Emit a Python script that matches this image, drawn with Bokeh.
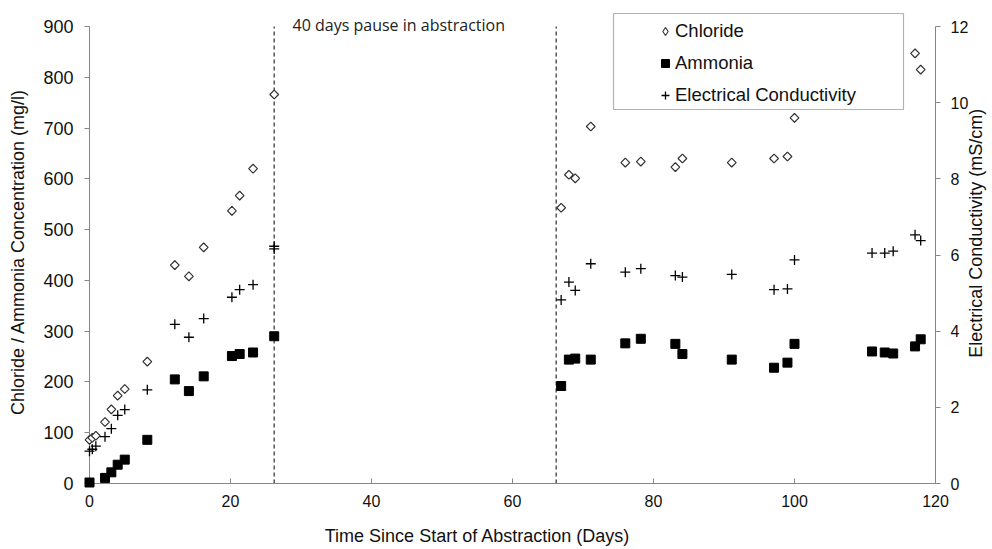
import numpy as np
from bokeh.plotting import figure
from bokeh.models import (Range1d, LinearAxis, Label, Legend, LegendItem,
                          BoxAnnotation, SingleIntervalTicker)
from bokeh.core.properties import value
from bokeh.embed import file_html
from bokeh.resources import INLINE

# ---- data ----
chloride_days = [0, 0.4, 0.9, 2.2, 3.1, 4.0, 5.0, 8.2, 12.1, 14.1, 16.2, 20.2, 21.3, 23.2, 26.2,
                 66.9, 68.0, 68.9, 71.1, 76.0, 78.2, 83.1, 84.1, 91.1, 97.1, 99.0, 100.0, 117.1, 117.9]
chloride = [86, 90, 94, 121, 146, 173, 186, 240, 430, 408, 465, 537, 567, 620, 766,
            543, 608, 601, 703, 632, 634, 623, 640, 632, 640, 644, 720, 847, 815]

ammonia_days = [0, 2.2, 3.1, 4.0, 5.0, 8.2, 12.1, 14.1, 16.2, 20.2, 21.3, 23.2, 26.2,
                66.9, 68.0, 68.9, 71.1, 76.0, 78.2, 83.1, 84.1, 91.1, 97.1, 99.0, 100.0,
                111.0, 112.8, 114.0, 117.1, 117.9]
ammonia = [2, 11, 22, 37, 47, 86, 205, 182, 211, 251, 255, 258, 290,
           192, 244, 246, 244, 276, 285, 275, 255, 244, 228, 238, 275,
           260, 258, 256, 270, 284]

ec_days = [0, 0.4, 0.9, 2.2, 3.1, 4.0, 5.0, 8.2, 12.1, 14.1, 16.2, 20.2, 21.3, 23.2, 26.2, 26.2,
           66.9, 68.0, 68.9, 71.1, 76.0, 78.2, 83.1, 84.1, 91.1, 97.1, 99.0, 100.0,
           111.0, 112.8, 114.0, 117.1, 117.9]
ec = [0.85, 0.9, 0.98, 1.23, 1.44, 1.79, 1.94, 2.46, 4.18, 3.84, 4.33, 4.89, 5.09, 5.22, 6.23, 6.16,
      4.82, 5.29, 5.07, 5.77, 5.55, 5.64, 5.46, 5.42, 5.49, 5.09, 5.11, 5.87,
      6.05, 6.05, 6.10, 6.53, 6.38]

pause_days = [26.2, 66.2]
pause_text = "40 days pause in abstraction"
series_names = ["Chloride", "Ammonia", "Electrical Conductivity"]
right_title = "Electrical Conductivity  (mS/cm)"

Y_MAX, EC_MAX, X_MAX = 900, 12, 120
# frame extends a little above the top tick (room for the legend box)
HEAD = 473 / 457
NB = "\u00a0"

FONT = "Liberation Sans"
AX = "#868686"

p = figure(width=992, height=549, x_range=Range1d(0, X_MAX), y_range=Range1d(0, Y_MAX * HEAD),
           output_backend="svg", toolbar_location=None,
           min_border_left=89, min_border_right=57, min_border_top=10, min_border_bottom=66)
p.outline_line_color = None
p.xgrid.visible = False
p.ygrid.visible = False
p.background_fill_color = "white"
p.border_fill_color = "white"

p.extra_y_ranges = {"ec": Range1d(0, EC_MAX * HEAD)}

xa = p.xaxis[0]
xa.ticker = SingleIntervalTicker(interval=20)
xa.axis_label = "Time Since Start of Abstraction  (Days)" + NB * 13
xa.major_tick_in = 5
xa.major_tick_out = 0
xa.major_label_standoff = 7
xa.axis_label_standoff = 16
xa.major_label_text_font_size = "16px"

ya = p.yaxis[0]
ya.ticker = SingleIntervalTicker(interval=100)
ya.bounds = (0, Y_MAX)
ya.axis_label = "Chloride / Ammonia  Concentration  (mg/l)"
ya.major_tick_in = 0
ya.major_tick_out = 5
ya.major_label_standoff = 11
ya.axis_label_standoff = 12
ya.major_label_text_font_size = "18px"

ra = LinearAxis(y_range_name="ec", ticker=SingleIntervalTicker(interval=2), bounds=(0, EC_MAX))
ra.major_tick_in = 0
ra.major_tick_out = 5
ra.major_label_standoff = 10
ra.major_label_text_font_size = "16px"
p.add_layout(ra, "right")

for ax in [xa, ya, ra]:
    ax.axis_line_color = AX
    ax.major_tick_line_color = AX
    ax.minor_tick_line_color = None
    ax.major_label_text_font = FONT
    ax.major_label_text_color = "#111111"
    ax.axis_label_text_font = FONT
    ax.axis_label_text_font_size = "18px"
    ax.axis_label_text_font_style = "normal"
    ax.axis_label_text_color = "#111111"

# right axis title, reading bottom-to-top like the reference
p.text(x=[X_MAX], y=[Y_MAX * 0.553], text=[right_title], angle=np.pi / 2,
       x_offset=40, text_align="center", text_baseline="middle",
       text_font=value(FONT), text_font_size=value("18px"), text_color="#111111",
       level="overlay")

# pause lines
p.segment(x0=pause_days, y0=[0, 0], x1=pause_days, y1=[Y_MAX, Y_MAX],
          line_color="#555555", line_dash="4 3", line_width=1.5)

p.add_layout(Label(x=28.8, y=902, text=pause_text, text_font="Open Sans",
                   text_font_size="16px", text_baseline="middle", text_color="#222222"))

# data
# diamond-shaped glyph (used for the legend entry), hidden under the drawn markers
r_cl_leg = p.scatter(chloride_days, chloride, marker="diamond", size=8, fill_color="white",
                     line_color="#333333", line_width=1.1, level="overlay")
r_cl = p.scatter(chloride_days, chloride, marker="square", angle=np.pi / 4, size=6.2,
                 fill_color="white", line_color="#333333", line_width=1.2, level="overlay")
r_nh = p.scatter(ammonia_days, ammonia, marker="square", size=9,
                 fill_color="black", line_color="black", level="overlay")
r_ec = p.scatter(ec_days, ec, marker="cross", size=10, line_color="black", line_width=1.3,
                 y_range_name="ec", level="overlay")

# legend frame
p.add_layout(BoxAnnotation(left=74.33, right=115.46, bottom=736.5, top=925.6,
                           fill_color="white", fill_alpha=1, line_color="black",
                           line_width=1.2, level="annotation"))

legend = Legend(items=[LegendItem(label=series_names[0], renderers=[r_cl_leg]),
                       LegendItem(label=series_names[1], renderers=[r_nh]),
                       LegendItem(label=series_names[2], renderers=[r_ec])],
                location=(566, 372), padding=0, margin=0, spacing=0,
                glyph_width=20, glyph_height=32, label_height=32, label_standoff=0,
                border_line_color=None, background_fill_alpha=0,
                label_text_font=FONT, label_text_font_size="18.5px",
                label_text_color="#111111")
p.add_layout(legend, "center")

open("out.html", "w").write(file_html(p, INLINE))
